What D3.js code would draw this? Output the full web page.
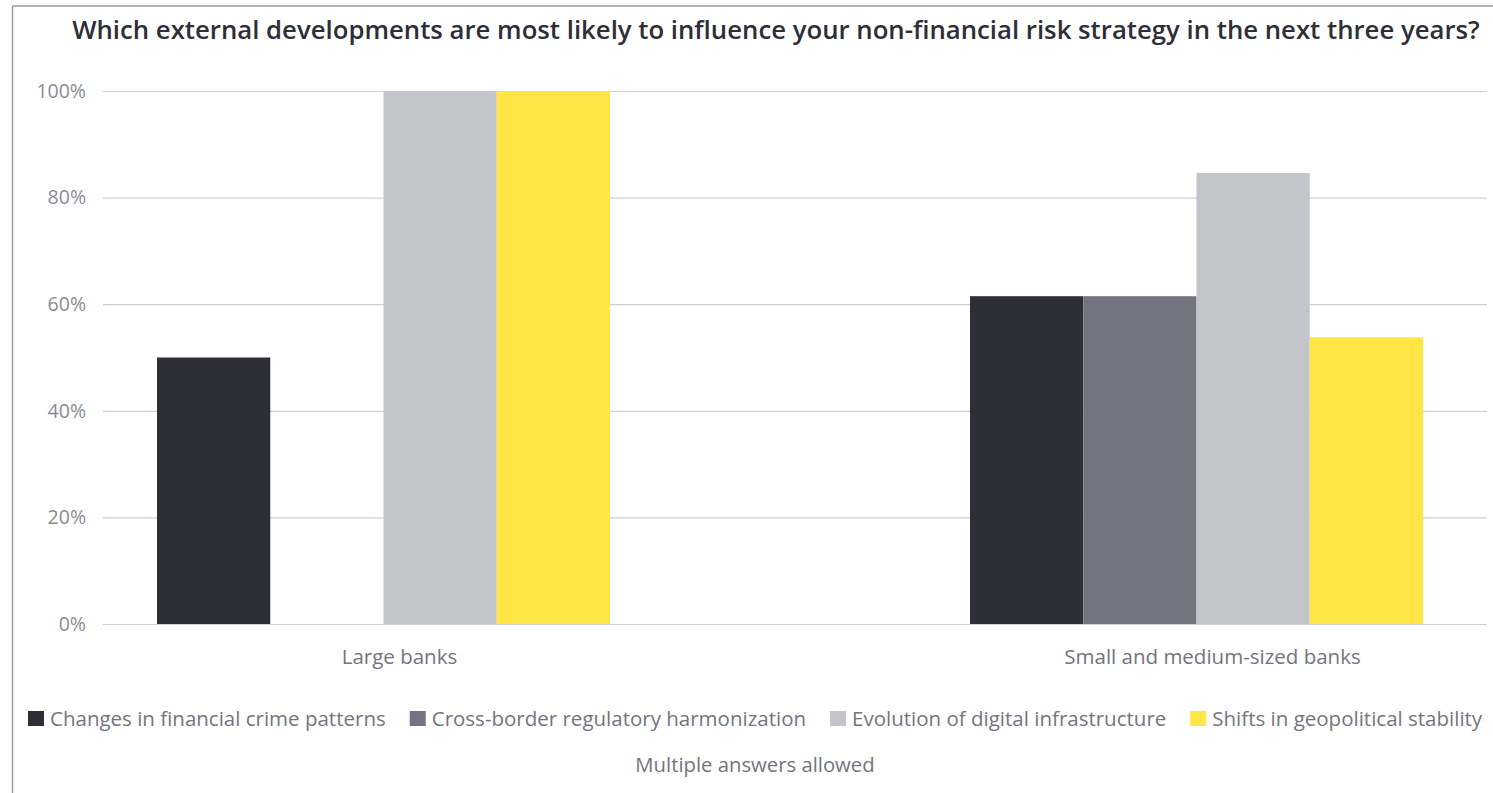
<!DOCTYPE html>
<html>
<head>
<meta charset="utf-8">
<script src="https://cdn.jsdelivr.net/npm/d3@7"></script>
<style>
  html, body { margin: 0; padding: 0; background: #fff; }
  svg { display: block; font-family: "Open Sans", "Noto Sans", sans-serif; }
</style>
</head>
<body>
<svg id="chart" width="1493" height="793"></svg>
<script>
// Survey responses (share of respondents) by bank size
const categories = ["Large banks", "Small and medium-sized banks"];
const seriesNames = [
  "Changes in financial crime patterns",
  "Cross-border regulatory harmonization",
  "Evolution of digital infrastructure",
  "Shifts in geopolitical stability"
];
const crimePatterns = [50, 61.5];
const regulatoryHarmonization = [0, 61.5];
const digitalInfrastructure = [100, 84.6];
const geopoliticalStability = [100, 53.8];
const yTicks = [0, 20, 40, 60, 80, 100];

const seriesValues = [crimePatterns, regulatoryHarmonization, digitalInfrastructure, geopoliticalStability];
const colors = ["#2e2e38", "#747480", "#c4c4cd", "#ffe644"];

const svg = d3.select("#chart");
const W = 1493, H = 793;
const textGray = "#747480";

// frame lines (top and left)
svg.append("line").attr("x1", 12.5).attr("x2", W).attr("y1", 6).attr("y2", 6)
  .attr("stroke", "#9a9aa4").attr("stroke-width", 1.5);
svg.append("line").attr("x1", 12.5).attr("x2", 12.5).attr("y1", 6).attr("y2", H)
  .attr("stroke", "#9a9aa4").attr("stroke-width", 1.5);

// title, sized to span the header width
const title = svg.append("text")
  .attr("x", 776).attr("y", 39)
  .attr("text-anchor", "middle")
  .attr("font-size", 24).attr("font-weight", 600)
  .attr("fill", "#2e2e38")
  .text("Which external developments are most likely to influence your non-financial risk strategy in the next three years?");
const tw = title.node().getComputedTextLength();
title.attr("font-size", 24 * 1408 / tw);

const gridLeft = 103, gridRight = 1487;
const y = d3.scaleLinear().domain([0, 100]).range([624, 91]);

const x0 = d3.scaleBand().domain(categories).range([157, 1423]).paddingInner(0.4428).paddingOuter(0);
const x1 = d3.scaleBand().domain(seriesNames).range([0, x0.bandwidth()]).padding(0);

// gridlines + tick labels
const yAxis = d3.axisLeft(y).tickValues(yTicks).tickFormat(d => d + "%")
  .tickSize(-(gridRight - gridLeft)).tickPadding(17);
const gAxis = svg.append("g").attr("transform", `translate(${gridLeft},0)`).call(yAxis);
gAxis.select(".domain").remove();
gAxis.selectAll(".tick line").attr("stroke", "#cfcfd7").attr("stroke-width", 1.2);
gAxis.selectAll(".tick text").attr("fill", "#8b8b96").attr("font-size", 19.5)
  .attr("font-family", "'Open Sans', sans-serif");

// bars
const groups = svg.append("g").selectAll("g")
  .data(categories)
  .join("g")
  .attr("transform", d => `translate(${x0(d)},0)`);

groups.selectAll("rect")
  .data((d, i) => seriesNames.map((s, j) => ({ s, j, v: seriesValues[j][i] })))
  .join("rect")
  .attr("x", d => x1(d.s))
  .attr("width", x1.bandwidth())
  .attr("y", d => y(d.v))
  .attr("height", d => y(0) - y(d.v))
  .attr("fill", d => colors[d.j]);

// category labels
svg.append("g").selectAll("text")
  .data(categories)
  .join("text")
  .attr("x", d => x0(d) + x0.bandwidth() / 2 + 16)
  .attr("y", 664)
  .attr("text-anchor", "middle")
  .attr("font-size", 20.5)
  .attr("fill", textGray)
  .text(d => d);

// legend
const legend = svg.append("g");
let lx = 28;
seriesNames.forEach((name, i) => {
  legend.append("rect").attr("x", lx).attr("y", 711).attr("width", 16).attr("height", 15)
    .attr("fill", colors[i]);
  const t = legend.append("text").attr("x", lx + 22).attr("y", 726)
    .attr("font-size", 20.5).attr("fill", textGray).text(name);
  lx += 22 + t.node().getComputedTextLength() + 24;
});

// note
svg.append("text")
  .attr("x", 755).attr("y", 772)
  .attr("text-anchor", "middle")
  .attr("font-size", 20.3).attr("fill", textGray)
  .text("Multiple answers allowed");
</script>
</body>
</html>
